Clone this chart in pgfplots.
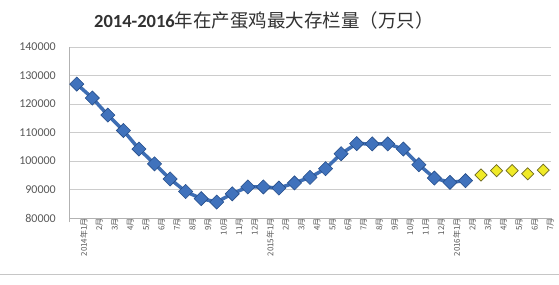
\documentclass[border=0pt]{standalone}
\usepackage{fontspec}
\setmainfont{Carlito}
\newfontfamily\cjk{Noto Sans CJK SC}
\usepackage{pgfplots}
\pgfplotsset{compat=1.18}
\definecolor{lineblue}{RGB}{62,110,180}
\definecolor{markblue}{RGB}{64,114,188}
\definecolor{markedge}{RGB}{38,78,138}
\definecolor{yfill}{RGB}{240,234,40}
\definecolor{yedge}{RGB}{110,105,30}
\definecolor{lab}{RGB}{89,89,89}
\definecolor{titlec}{RGB}{50,50,50}
\begin{document}
\begin{tikzpicture}[x=1pt,y=1pt]
\useasboundingbox (0,0) rectangle (559,284);
\fill[white] (0,0) rectangle (559,284);
\draw[gray!45, line width=0.8pt] (0,10) -- (559,10);
\node[text=titlec, inner sep=0pt] at (264,264) {\fontsize{18.5}{20}\selectfont\bfseries 2014-2016{\cjk\mdseries 年在产蛋鸡最大存栏量（万只）}};
\begin{axis}[
  at={(69pt,66pt)}, anchor=south west,
  scale only axis, width=482pt, height=171pt,
  xmin=0.5, xmax=31.5, ymin=80000, ymax=140000,
  ytick={80000,90000,...,140000},
  scaled y ticks=false,
  /pgf/number format/assume math mode=true,
  yticklabel style={/pgf/number format/fixed, /pgf/number format/1000 sep={}, font=\fontsize{12}{14}\selectfont, text=lab, inner sep=0pt, xshift=-13pt},
  ymajorgrids, grid style={draw=gray!40, line width=0.8pt},
  axis x line*=bottom, axis y line*=left,
  axis line style={draw=gray!60, line width=0.8pt, -},
  xtick={1,...,31},
  xticklabels={2014年1月,2月,3月,4月,5月,6月,7月,8月,9月,10月,11月,12月,2015年1月,2月,3月,4月,5月,6月,7月,8月,9月,10月,11月,12月,2016年1月,2月,3月,4月,5月,6月,7月},
  xticklabel style={rotate=90, anchor=east, font=\cjk\fontsize{8}{9}\selectfont, text=lab, inner sep=0pt, yshift=-7pt},
  minor xtick={0.5,1.5,...,31.5},
  major tick length=0pt, minor tick length=4pt, tick align=outside,
  tick style={draw=gray!60, line width=0.6pt},
]
\addplot[draw=lineblue, line width=3.5pt, mark=square*, mark size=5pt,
  mark options={rotate=45, fill=markblue, draw=markedge, line width=0.6pt}]
coordinates {
(1,127000) (2,122100) (3,116100) (4,110700) (5,104200) (6,99000)
(7,93700) (8,89300) (9,86800) (10,85600) (11,88500) (12,90900)
(13,90900) (14,90500) (15,92300) (16,94250) (17,97300) (18,102560)
(19,106100) (20,106000) (21,106000) (22,104200) (23,98700) (24,94000)
(25,92500) (26,93100)
};
\addplot[only marks, mark=square*, mark size=4.3pt,
  mark options={rotate=45, fill=yfill, draw=yedge, line width=0.7pt}]
coordinates {
(27,95100) (28,96600) (29,96600) (30,95500) (31,96800)
};
\end{axis}
\end{tikzpicture}
\end{document}
